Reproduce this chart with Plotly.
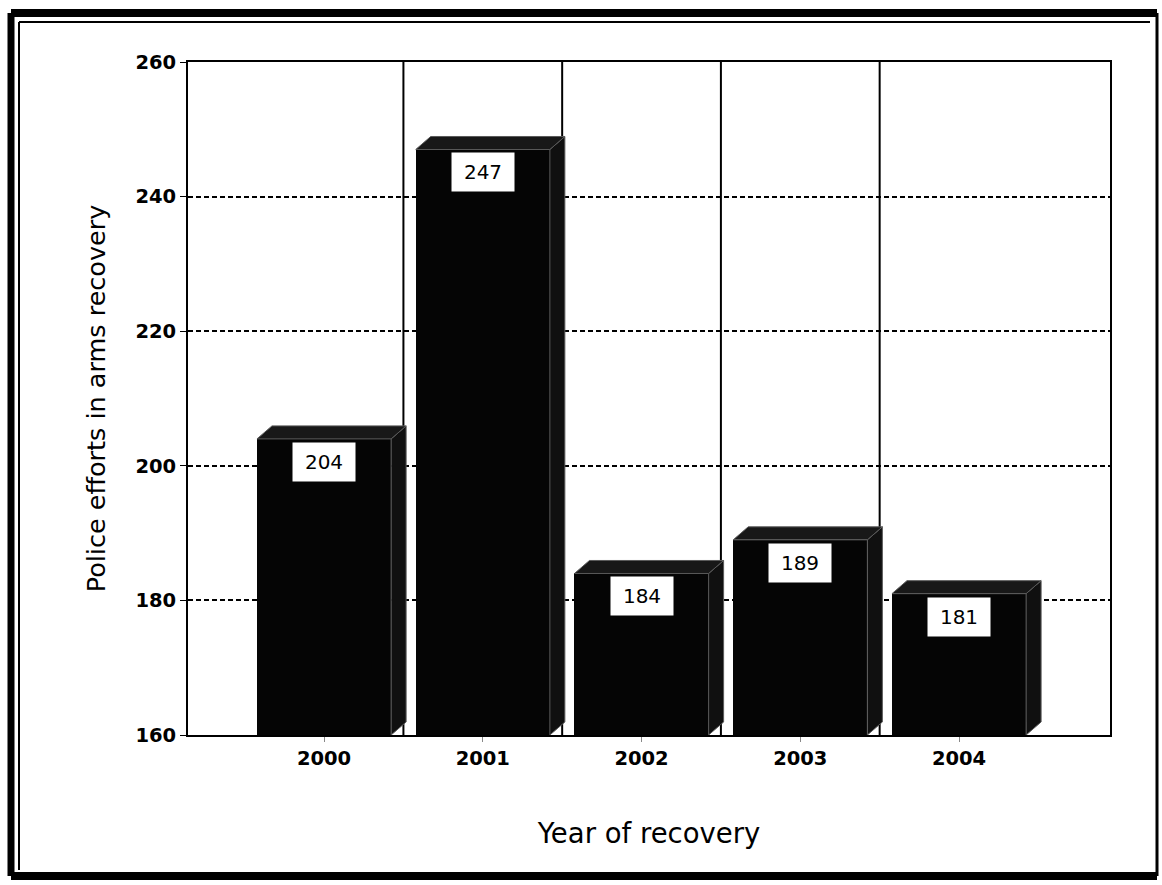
import plotly.graph_objects as go

# ---- data ----
years = ["2000", "2001", "2002", "2003", "2004"]
values = [204, 247, 184, 189, 181]
y_ticks = [160, 180, 200, 220, 240, 260]
y_title = "Police efforts in arms recovery"
x_title = "Year of recovery"

# ---- geometry / style ----
W, H = 1162, 885
L, R, T, B = 188, 52, 62, 150
plot_w = W - L - R
plot_h = H - T - B
x_range = [-0.857, 4.951]
y_range = [160, 260]
bar_w = 0.845
px_per_x = plot_w / (x_range[1] - x_range[0])
px_per_y = plot_h / (y_range[1] - y_range[0])
depth_x = 15 / px_per_x
depth_y = 13 / px_per_y

xs = list(range(len(years)))

fig = go.Figure()

# front faces
fig.add_trace(go.Bar(x=xs, y=values, width=bar_w, marker=dict(color="#050505", line=dict(width=0)),
                     hoverinfo="skip", showlegend=False))

# 3D side and top faces derived from each value
for x, v in zip(xs, values):
    xl, xr = x - bar_w / 2, x + bar_w / 2
    base = y_range[0]
    fig.add_trace(go.Scatter(
        x=[xr, xr, xr + depth_x, xr + depth_x, xr],
        y=[base, v, v + depth_y, base + depth_y, base],
        fill="toself", fillcolor="#101010", mode="lines",
        line=dict(color="#5a5a5a", width=1), hoverinfo="skip", showlegend=False))
    fig.add_trace(go.Scatter(
        x=[xl, xl + depth_x, xr + depth_x, xr, xl],
        y=[v, v + depth_y, v + depth_y, v, v],
        fill="toself", fillcolor="#181818", mode="lines",
        line=dict(color="#5a5a5a", width=1), hoverinfo="skip", showlegend=False))

shapes = []
# vertical back-wall lines between categories
for i in range(len(years) - 1):
    shapes.append(dict(type="line", xref="x", yref="paper", x0=i + 0.5, x1=i + 0.5, y0=0, y1=1,
                       line=dict(color="black", width=2), layer="below"))


def px_to_paper_x(px):
    return (px - L) / plot_w


def px_to_paper_y(py):
    return (H - B - py) / plot_h


# outer scanned frame
frame = [
    (11, 13, 11, 876, 7),
    (11, 13, 1157, 13, 8),
    (11, 876, 1157, 876, 8),
    (1157, 13, 1157, 876, 3),
    (19, 22, 19, 870, 2),
    (19, 22, 1150, 22, 2),
]
for x0, y0, x1, y1, wdt in frame:
    shapes.append(dict(type="line", xref="paper", yref="paper",
                       x0=px_to_paper_x(x0), x1=px_to_paper_x(x1),
                       y0=px_to_paper_y(y0), y1=px_to_paper_y(y1),
                       line=dict(color="black", width=wdt), layer="above"))

annotations = []
for x, v in zip(xs, values):
    annotations.append(dict(x=x, y=v, xref="x", yref="y", text=str(v), showarrow=False,
                            yanchor="top", yshift=-3, bgcolor="white", width=58, height=34,
                            borderpad=2, font=dict(family="DejaVu Sans", size=20, color="black")))

fig.update_layout(
    width=W, height=H,
    margin=dict(l=L, r=R, t=T, b=B, autoexpand=False),
    paper_bgcolor="white", plot_bgcolor="white",
    bargap=0, shapes=shapes, annotations=annotations,
    font=dict(family="DejaVu Sans", color="black"),
)
fig.update_xaxes(range=x_range, tickvals=xs, ticktext=years, showgrid=False, zeroline=False,
                 showline=True, linecolor="black", linewidth=2, mirror=True,
                 ticks="outside", ticklen=5, tickcolor="#888", tickwidth=1,
                 tickfont=dict(family="DejaVu Sans", size=19.5, weight="bold"),
                 title=dict(text=x_title, font=dict(family="DejaVu Sans", size=27.5), standoff=54))
fig.update_yaxes(range=y_range, tickvals=y_ticks, showgrid=True, gridcolor="black", gridwidth=2,
                 griddash="5px,3px", zeroline=False,
                 showline=True, linecolor="black", linewidth=2, mirror=True,
                 ticks="outside", ticklen=6, tickcolor="black", tickwidth=1,
                 tickfont=dict(family="DejaVu Sans", size=19.5, weight="bold"),
                 title=dict(text=y_title, font=dict(family="DejaVu Sans", size=25.5), standoff=22))

fig.write_html("out.html")
